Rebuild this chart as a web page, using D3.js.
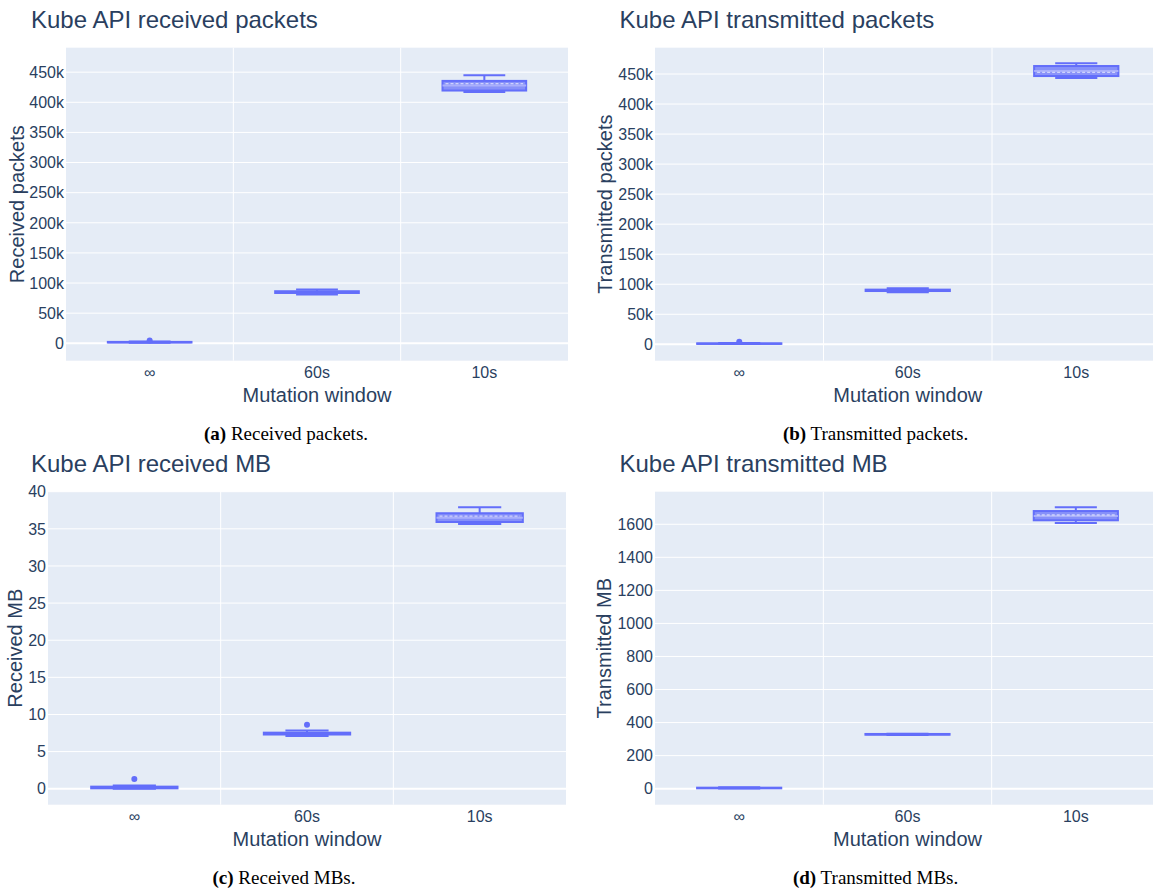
<!DOCTYPE html>
<html>
<head>
<meta charset="utf-8">
<script src="https://cdn.jsdelivr.net/npm/d3@7"></script>
<style>
  html, body { margin: 0; padding: 0; background: #fff; }
  svg { display: block; }
</style>
</head>
<body>
<svg id="chart" width="1153" height="890"></svg>
<script>
// ---------- DATA ----------
const categories = ["∞", "60s", "10s"];

// (a) Received packets
const rxPktLower   = [800,   81000, 417000];
const rxPktQ1      = [1300,  83500, 419500];
const rxPktMedian  = [1800,  85000, 428000];
const rxPktQ3      = [2300,  86400, 435500];
const rxPktUpper   = [3000,  89400, 445000];
const rxPktMean    = [1900,  85100, 431000];
const rxPktOutliers = [[4500], [], []];
const rxPktTicks   = [0, 50000, 100000, 150000, 200000, 250000, 300000, 350000, 400000, 450000];

// (b) Transmitted packets
const txPktLower   = [300,   86800, 443300];
const txPktQ1      = [700,   88700, 446600];
const txPktMedian  = [1100,  90000, 455000];
const txPktQ3      = [1600,  91000, 463300];
const txPktUpper   = [2300,  93500, 467800];
const txPktMean    = [1200,  90000, 452800];
const txPktOutliers = [[4300], [], []];
const txPktTicks   = rxPktTicks;

// (c) Received MB
const rxMbLower    = [0.0,  7.1,  35.65];
const rxMbQ1       = [0.05, 7.3,  35.92];
const rxMbMedian   = [0.15, 7.42, 36.5];
const rxMbQ3       = [0.28, 7.55, 37.1];
const rxMbUpper    = [0.45, 7.85, 37.9];
const rxMbMean     = [0.2,  7.5,  36.7];
const rxMbOutliers = [[1.3], [8.62], []];
const rxMbTicks    = [0, 5, 10, 15, 20, 25, 30, 35, 40];

// (d) Transmitted MB
const txMbLower    = [0.5, 325,   1608];
const txMbQ1       = [2,   326.5, 1624];
const txMbMedian   = [4,   329,   1650];
const txMbQ3       = [6,   331,   1680];
const txMbUpper    = [9,   333,   1703];
const txMbMean     = [4.5, 329,   1656];
const txMbOutliers = [[], [], []];
const txMbTicks    = [0, 200, 400, 600, 800, 1000, 1200, 1400, 1600];

const titles   = ["Kube API received packets", "Kube API transmitted packets", "Kube API received MB", "Kube API transmitted MB"];
const yTitles  = ["Received packets", "Transmitted packets", "Received MB", "Transmitted MB"];
const xTitle   = "Mutation window";
const captionLetters = ["(a)", "(b)", "(c)", "(d)"];
const captionTexts   = [" Received packets.", " Transmitted packets.", " Received MBs.", " Transmitted MBs."];

// ---------- LAYOUT ----------
const panels = [
  { left: 66,  right: 568,  top: 47.7,  bottom: 360.7, yDomain: [-28900, 490600], ticks: rxPktTicks, fmt: "k",
    stats: [rxPktLower, rxPktQ1, rxPktMedian, rxPktQ3, rxPktUpper, rxPktMean, rxPktOutliers],
    titleX: 31, titleY: 27.5, yTitleX: 24, xTickY: 377.5, xTitleY: 401.5, capX: 286, capY: 440 },
  { left: 655, right: 1160.5, top: 47.7, bottom: 360.7, yDomain: [-27300, 493800], ticks: txPktTicks, fmt: "k",
    stats: [txPktLower, txPktQ1, txPktMedian, txPktQ3, txPktUpper, txPktMean, txPktOutliers],
    titleX: 619.5, titleY: 27.5, yTitleX: 611.5, xTickY: 377.5, xTitleY: 401.5, capX: 875.6, capY: 440 },
  { left: 48,  right: 566,  top: 491.7, bottom: 804.7, yDomain: [-2.15, 40], ticks: rxMbTicks, fmt: "n",
    stats: [rxMbLower, rxMbQ1, rxMbMedian, rxMbQ3, rxMbUpper, rxMbMean, rxMbOutliers],
    titleX: 31, titleY: 471.7, yTitleX: 22, xTickY: 821.7, xTitleY: 846, capX: 284, capY: 884 },
  { left: 655, right: 1160, top: 491.7, bottom: 804.7, yDomain: [-97, 1797], ticks: txMbTicks, fmt: "n",
    stats: [txMbLower, txMbQ1, txMbMedian, txMbQ3, txMbUpper, txMbMean, txMbOutliers],
    titleX: 619.5, titleY: 471.7, yTitleX: 611, xTickY: 821.7, xTitleY: 846, capX: 875.6, capY: 884 }
];

const BG = "#E5ECF6", TXT = "#2a3f5f", BOX = "#636efa";
const FONT = "'Liberation Sans', Arial, 'DejaVu Sans', sans-serif";

const svg = d3.select("#chart");
svg.append("rect").attr("width", 1153).attr("height", 890).attr("fill", "#fff");

panels.forEach((p, i) => {
  const g = svg.append("g");
  const x = d3.scaleBand().domain(categories).range([p.left, p.right]).paddingInner(0).paddingOuter(0);
  const y = d3.scaleLinear().domain(p.yDomain).range([p.bottom, p.top]);

  g.append("rect").attr("x", p.left).attr("y", p.top)
    .attr("width", p.right - p.left).attr("height", p.bottom - p.top).attr("fill", BG);

  g.selectAll(".hg").data(p.ticks).enter().append("line")
    .attr("x1", p.left).attr("x2", p.right)
    .attr("y1", d => y(d)).attr("y2", d => y(d))
    .attr("stroke", "#fff").attr("stroke-width", d => d === 0 ? 2 : 1);

  const bounds = categories.slice(1).map(c => x(c));
  g.selectAll(".vg").data(bounds).enter().append("line")
    .attr("x1", d => d).attr("x2", d => d)
    .attr("y1", p.top).attr("y2", p.bottom)
    .attr("stroke", "#fff").attr("stroke-width", 1);

  const fmt = p.fmt === "k" ? (d => d === 0 ? "0" : (d / 1000) + "k") : (d => String(d));
  g.selectAll(".yt").data(p.ticks).enter().append("text")
    .attr("x", p.left - 2).attr("y", d => y(d)).attr("dy", "0.36em")
    .attr("text-anchor", "end").attr("fill", TXT)
    .attr("font-family", FONT).attr("font-size", 16)
    .text(fmt);

  g.selectAll(".xt").data(categories).enter().append("text")
    .attr("x", d => x(d) + x.bandwidth() / 2).attr("y", p.xTickY)
    .attr("text-anchor", "middle").attr("fill", TXT)
    .attr("font-family", FONT).attr("font-size", 16)
    .text(d => d);

  g.append("text").attr("x", p.left + 1.5 * x.bandwidth()).attr("y", p.xTitleY)
    .attr("text-anchor", "middle").attr("fill", TXT)
    .attr("font-family", FONT).attr("font-size", 20)
    .text(xTitle);
  g.append("text")
    .attr("transform", `translate(${p.yTitleX},${(p.top + p.bottom) / 2}) rotate(-90)`)
    .attr("text-anchor", "middle").attr("fill", TXT)
    .attr("font-family", FONT).attr("font-size", 20)
    .text(yTitles[i]);

  g.append("text").attr("x", p.titleX).attr("y", p.titleY)
    .attr("fill", TXT).attr("font-family", FONT).attr("font-size", 24)
    .text(titles[i]);

  const cap = g.append("text").attr("x", p.capX).attr("y", p.capY)
    .attr("text-anchor", "middle").attr("fill", "#000")
    .attr("font-family", "'Liberation Serif', 'Times New Roman', serif").attr("font-size", 19);
  cap.append("tspan").attr("font-weight", "bold").text(captionLetters[i]);
  cap.append("tspan").text(captionTexts[i]);

  // boxes
  const [lo, q1, med, q3, hi, mean, outl] = p.stats;
  const bw = x.bandwidth() * 0.5;
  const ww = bw * 0.5;
  const bg = g.append("g");
  categories.forEach((c, k) => {
    const cx = x(c) + x.bandwidth() / 2;
    bg.append("line").attr("x1", cx).attr("x2", cx).attr("y1", y(q3[k])).attr("y2", y(hi[k]))
      .attr("stroke", BOX).attr("stroke-width", 2);
    bg.append("line").attr("x1", cx).attr("x2", cx).attr("y1", y(q1[k])).attr("y2", y(lo[k]))
      .attr("stroke", BOX).attr("stroke-width", 2);
    [lo[k], hi[k]].forEach(v => {
      bg.append("line").attr("x1", cx - ww / 2).attr("x2", cx + ww / 2).attr("y1", y(v)).attr("y2", y(v))
        .attr("stroke", BOX).attr("stroke-width", 2);
    });
    const h = y(q1[k]) - y(q3[k]);
    bg.append("rect").attr("x", cx - bw / 2).attr("y", y(q3[k]))
      .attr("width", bw).attr("height", Math.max(0.5, h))
      .attr("fill", "rgba(99,110,250,0.72)").attr("stroke", BOX).attr("stroke-width", 2);
    bg.append("line").attr("x1", cx - bw / 2).attr("x2", cx + bw / 2).attr("y1", y(med[k])).attr("y2", y(med[k]))
      .attr("stroke", h > 5 ? "#aab0fb" : BOX).attr("stroke-width", 2);
    if (h > 5) {
      bg.append("line").attr("x1", cx - bw / 2 + 3).attr("x2", cx + bw / 2 - 3).attr("y1", y(mean[k])).attr("y2", y(mean[k]))
        .attr("stroke", "#d0d3fc").attr("stroke-width", 1.3).attr("stroke-dasharray", "3,2");
    }
    outl[k].forEach(v => {
      bg.append("circle").attr("cx", cx).attr("cy", y(v)).attr("r", 3).attr("fill", BOX);
    });
  });
});
</script>
</body>
</html>
